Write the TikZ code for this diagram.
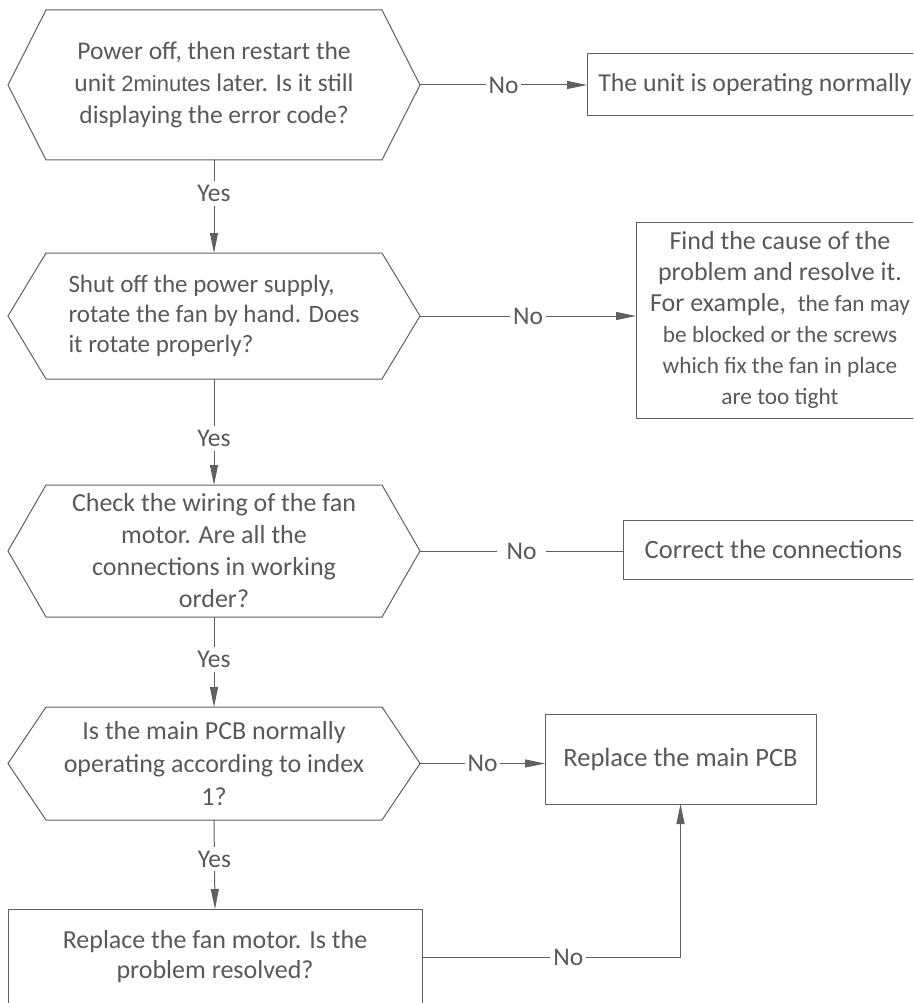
\documentclass[tikz,border=0pt]{standalone}
\usepackage{fontspec}
\setmainfont{Carlito}
\newfontfamily\arialf{Liberation Sans}
\usetikzlibrary{arrows.meta,calc}
\definecolor{txtc}{HTML}{595959}
\definecolor{linec}{HTML}{606060}
\newcommand\fsmall{\fontsize{23.3}{30}\selectfont}
\newcommand\hexdraw[1]{\draw[hexline] (#1.west) -- ($(#1.north west)+(38,0)$) -- ($(#1.north east)+(-38,0)$) -- (#1.east) -- ($(#1.south east)+(-38,0)$) -- ($(#1.south west)+(38,0)$) -- cycle;}
\begin{document}
\begin{tikzpicture}[x=1pt,y=-1pt,
  font=\fontsize{26}{31}\selectfont,
  every node/.style={inner sep=0pt, outer sep=0pt, text=txtc},
  hexbox/.style={minimum width=412, inner sep=0pt},
  hexline/.style={draw=linec, line width=1pt},
  box/.style={draw=linec, line width=1pt, align=center},
  conn/.style={draw=linec, line width=1pt},
  arr/.style={conn, -{Triangle[length=20pt,width=8pt]}},
  lbl/.style={fill=white, inner xsep=3pt, inner ysep=4pt, font=\fontsize{25.5}{30}\selectfont}
]
\useasboundingbox (0,0) rectangle (913,1003);
\clip (0,0) rectangle (913,1003);
\fill[white] (0,0) rectangle (913,1003);

% decisions
\node[hexbox, minimum height=150, align=center, font=\fontsize{25.5}{32}\selectfont] (h1) at (214,85)
  {Power off, then restart the\\unit {\arialf\fontsize{22}{32}\selectfont 2minutes} later. Is it still\\displaying the error code?};
\node[hexbox, minimum height=126, align=left, font=\fontsize{25}{30}\selectfont] (h2) at (214,316)
  {Shut off the power supply,\\rotate the fan by hand. Does\\it rotate properly?};
\node[hexbox, minimum height=132, align=center, font=\fontsize{26}{32}\selectfont] (h3) at (214,551)
  {Check the wiring of the fan\\motor. Are all the\\connections in working\\order?};
\node[hexbox, minimum height=113, align=center, font=\fontsize{26}{33}\selectfont] (h4) at (214,763.5)
  {Is the main PCB normally\\operating according to index\\1?};
\hexdraw{h1}
\hexdraw{h2}
\hexdraw{h3}
\hexdraw{h4}

% boxes
\node[box, minimum width=336, minimum height=62, anchor=west, inner xsep=7pt, font=\fontsize{25.8}{31}\selectfont] (b1) at (587,85)
  {The unit is operating normally};
\node[box, minimum width=288, minimum height=196, anchor=west] (b2) at (636,320)
  {Find the cause of the\\problem and resolve it.\\For example,~ {\fsmall the fan may}\\{\fsmall be blocked or the screws}\\{\fsmall which fix the fan in place}\\{\fsmall are too tight}};
\node[box, minimum width=301, minimum height=59, anchor=west, font=\fontsize{26.5}{31}\selectfont] (b3) at (623,549.5)
  {Correct the connections};
\node[box, minimum width=271, minimum height=90, font=\fontsize{26.5}{31}\selectfont] (b4) at (680.5,759)
  {Replace the main PCB};
\node[box, minimum width=414, minimum height=96, font=\fontsize{26}{30}\selectfont] (b5) at (215,957)
  {Replace the fan motor. Is the\\problem resolved?};

% connectors
\draw[arr] (h1.east) -- node[lbl]{No} (h1.east -| b1.west);
\draw[arr] (h2.east) -- node[lbl]{No} (h2.east -| b2.west);
\draw[conn] (h3.east) -- node[lbl, inner xsep=10pt]{No} (h3.east -| b3.west);
\draw[arr] (h4.east) -- node[lbl]{No} (h4.east -| b4.west);
\draw[arr] (b5.east) -| node[lbl, pos=0.283]{No} (b4.south);

\draw[arr] (h1.south) -- node[lbl, pos=0.36]{Yes} (h2.north);
\draw[arr] (h2.south) -- node[lbl, pos=0.56]{Yes} (h3.north);
\draw[arr] (h3.south) -- node[lbl, pos=0.47]{Yes} (h4.north);
\draw[arr] (h4.south) -- node[lbl, pos=0.44]{Yes} (b5.north);
\end{tikzpicture}
\end{document}
